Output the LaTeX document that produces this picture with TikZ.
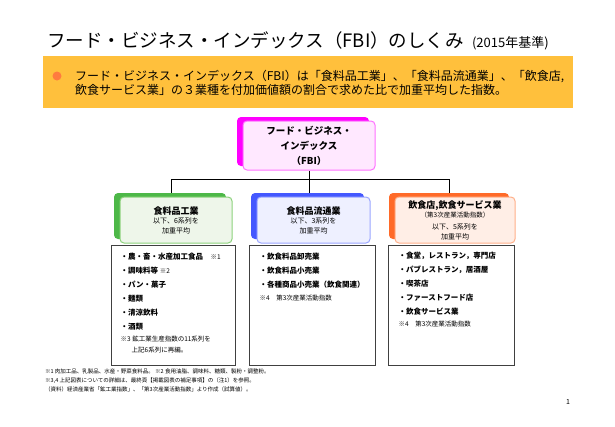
\documentclass[tikz,border=0pt]{standalone}
\usepackage{fontspec}
\setmainfont{Noto Sans CJK JP}
\usetikzlibrary{shadows}

\definecolor{bannerorange}{HTML}{FFC03C}
\definecolor{bulletorange}{HTML}{FF7B3F}
\definecolor{fbimag}{HTML}{FF00FF}
\definecolor{fbifill}{HTML}{FFE8FF}
\definecolor{fbiline}{HTML}{FF70FF}
\definecolor{foodgreen}{HTML}{4DB848}
\definecolor{foodfill}{HTML}{EEF6EA}
\definecolor{foodline}{HTML}{8CD27C}
\definecolor{distblue}{HTML}{4458FF}
\definecolor{distfill}{HTML}{EEF0FF}
\definecolor{distline}{HTML}{9AA6FF}
\definecolor{restorange}{HTML}{FF6A28}
\definecolor{restfill}{HTML}{FFEEE6}
\definecolor{restline}{HTML}{FFB08A}
\definecolor{listgray}{HTML}{404040}

\begin{document}
\begin{tikzpicture}[x=1pt,y=1pt,
  topbox/.style={rounded corners=4pt, inner sep=0pt, align=center, minimum height=46pt},
  boxcol/.style n args={3}{fill=#2, draw=#3, line width=1pt,
    general shadow={fill=#1, shadow xshift=-6pt, shadow yshift=4pt}},
  tree/.style={line width=1pt, black},
  listbox/.style={draw=listgray, line width=1pt, minimum height=120pt, inner sep=0pt},
  listtext/.style={font=\fontsize{7.5}{14}\selectfont\bfseries, align=left, inner sep=0pt, anchor=north west},
  notetext/.style={font=\fontsize{6.5}{11}\selectfont, align=left, inner sep=0pt, anchor=north west}]
\useasboundingbox (0,0) rectangle (615,-426);
% title
\node[anchor=base west, inner sep=0pt, font=\fontsize{18.5}{20}\selectfont] (title) at (47,-47) {フード・ビジネス・インデックス（FBI）のしくみ};
\node[anchor=base west, inner sep=0pt, font=\fontsize{13}{14}\selectfont] (year) at ([xshift=8pt]title.base east) {(2015年基準)};
% banner
\node[fill=bannerorange, anchor=north west, minimum width=530pt, minimum height=52pt, inner sep=0pt] (banner) at (43,-56) {};
\fill[bulletorange] (57,-76) circle (4.5);
\node[anchor=west, align=left, inner sep=0pt, font=\fontsize{12}{14}\selectfont] (lead) at (75,-83) {フード・ビジネス・インデックス（FBI）は「食料品工業」、「食料品流通業」、「飲食店,\\飲食サービス業」の３業種を付加価値額の割合で求めた比で加重平均した指数。};
% top boxes
\node[topbox, boxcol={fbimag}{fbifill}{fbiline}, minimum width=132pt, minimum height=49pt, font=\fontsize{9.5}{15}\selectfont\bfseries] (fbi) at (309,-145.5) {フード・ビジネス・\\インデックス\\（FBI）};
\node[topbox, boxcol={foodgreen}{foodfill}{foodline}, minimum width=112pt, font=\fontsize{7}{9.5}\selectfont] (food) at (176,-220) {{\fontsize{9}{9.5}\selectfont\bfseries 食料品工業}\\以下、6系列を\\加重平均};
\node[topbox, boxcol={distblue}{distfill}{distline}, minimum width=113pt, font=\fontsize{7}{9.5}\selectfont] (dist) at (313.5,-220) {{\fontsize{9}{9.5}\selectfont\bfseries 食料品流通業}\\以下、3系列を\\加重平均};
\node[topbox, boxcol={restorange}{restfill}{restline}, minimum width=120pt, font=\fontsize{7}{9.5}\selectfont] (rest) at (455,-220) {{\fontsize{9}{9.5}\selectfont\bfseries 飲食店,飲食サービス業}\\{\fontsize{6.5}{9.5}\selectfont （第3次産業活動指数）}\\[2.5pt]以下、5系列を\\加重平均};
% tree
\draw[tree] (fbi.south) -- ([yshift=4pt]dist.north -| fbi.south);
\draw[tree] ([xshift=-5pt,yshift=4pt]food.north) -- ++(0,13) -| ([xshift=-6pt,yshift=4pt]rest.north);
% list boxes
\node[listbox, minimum width=124pt] (foodlist) at (173,-305) {};
\node[listbox, minimum width=126pt] (distlist) at (312,-305) {};
\node[listbox, minimum width=126pt] (restlist) at (451,-305) {};
\node[listtext] (foodtext) at ([xshift=10pt,yshift=-8pt]foodlist.north west) {・農・畜・水産加工食品　{\mdseries\fontsize{6.5}{14}\selectfont ※1}\\・調味料等 {\mdseries\fontsize{6.5}{14}\selectfont ※2}\\・パン・菓子\\・麺類\\・清涼飲料\\・酒類};
\node[notetext] (foodnote) at ([yshift=-6pt]foodtext.south west) {※3 鉱工業生産指数の11系列を\\\hspace{11pt}上記6系列に再編。};
\node[listtext] (disttext) at ([xshift=11pt,yshift=-8pt]distlist.north west) {・飲食料品卸売業\\・飲食料品小売業\\・各種商品小売業（飲食関連）};
\node[notetext] (distnote) at ([yshift=-7pt]disttext.south west) {※4　第3次産業活動指数};
\node[listtext] (resttext) at ([xshift=11pt,yshift=-7pt]restlist.north west) {・食堂，レストラン，専門店\\・パブレストラン，居酒屋\\・喫茶店\\・ファーストフード店\\・飲食サービス業};
\node[notetext] (restnote) at ([yshift=-6pt]resttext.south west) {※4　第3次産業活動指数};
% footnotes
\node[anchor=north west, align=left, inner sep=0pt, font=\fontsize{5.5}{9}\selectfont] (notes) at (45,-369) {※1 肉加工品、乳製品、水産・野菜食料品。 ※2 食用油脂、調味料、糖類、製粉・調整粉。\\※3,4 上記図表についての詳細は、最終頁【掲載図表の補足事項】の（注1）を参照。\\（資料）経済産業省「鉱工業指数」、「第3次産業活動指数」より作成（試算値）。};
\node[inner sep=0pt, font=\fontsize{7}{8}\selectfont] (page) at (568,-402) {1};
\end{tikzpicture}
\end{document}
